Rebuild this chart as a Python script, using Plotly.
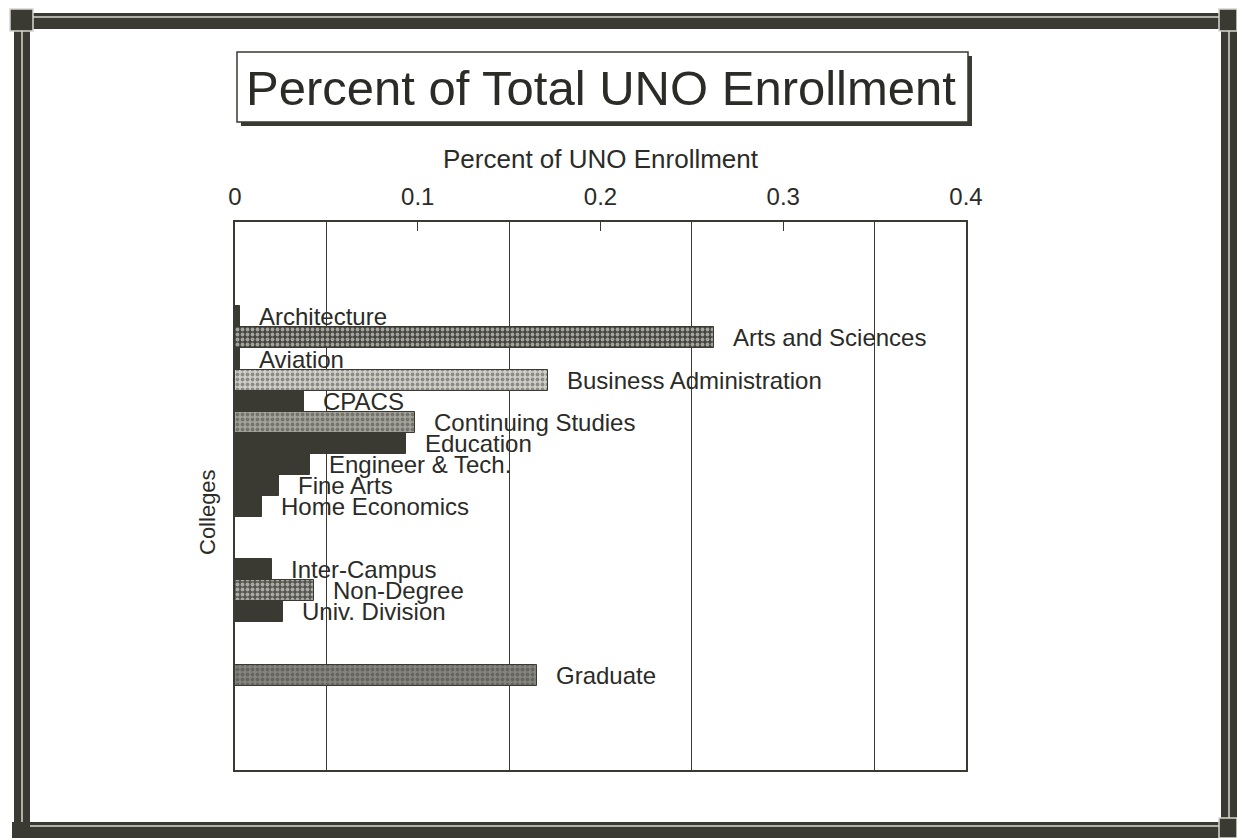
import plotly.graph_objects as go

# ---- data ----
colleges = ["Architecture", "Arts and Sciences", "Aviation", "Business Administration",
            "CPACS", "Continuing Studies", "Education", "Engineer & Tech.", "Fine Arts",
            "Home Economics", "", "", "Inter-Campus", "Non-Degree", "Univ. Division",
            "", "", "Graduate"]
percent = [0.003, 0.262, 0.003, 0.171, 0.038, 0.0985, 0.0935, 0.041, 0.024, 0.015,
           None, None, 0.020, 0.043, 0.026, None, None, 0.165]
x_ticks = [0, 0.1, 0.2, 0.3, 0.4]
x_tick_labels = ["0", "0.1", "0.2", "0.3", "0.4"]
grid_vals = [0.05, 0.15, 0.25, 0.35]

# ---- styles ----
DARK = "#3a3a33"
TXT = "#2b2b27"
bar_bg = ["#3a3a33", "#45453e", "#3a3a33", "#d0d0c8", "#3a3a33", "#a4a49a",
          "#3a3a33", "#3a3a33", "#3a3a33", "#3a3a33", DARK, DARK,
          "#3a3a33", "#55554d", "#3a3a33", DARK, DARK, "#85857d"]
bar_fg = ["#3a3a33", "#bcbcb4", "#3a3a33", "#6a6a62", "#3a3a33", "#e2e2da",
          "#3a3a33", "#3a3a33", "#3a3a33", "#3a3a33", DARK, DARK,
          "#3a3a33", "#9a9a92", "#3a3a33", DARK, DARK, "#d4d4cc"]
bar_shape = ["", ".", "", ".", "", ".", "", "", "", "", "", "",
             "", ".", "", "", "", "."]

W, H = 1237, 838
L, R, T, B = 235, 271, 222, 68
FONT = "Liberation Sans, Arial"


def px(x):
    return (x - L) / (W - L - R)


def py(y):
    return (H - B - y) / (H - T - B)


idx = list(range(len(colleges)))

fig = go.Figure()
fig.add_trace(go.Bar(
    x=percent, y=idx, orientation="h", width=1,
    marker=dict(color=bar_bg,
                line=dict(color=DARK, width=1),
                pattern=dict(shape=bar_shape, fgcolor=bar_fg, bgcolor=bar_bg,
                             size=5, solidity=0.45, fillmode="overlay")),
    hoverinfo="x+text", text=colleges, textposition="none",
))

annotations = []
for i, (name, v) in enumerate(zip(colleges, percent)):
    if v is None:
        continue
    annotations.append(dict(x=v, y=i, xref="x", yref="y", text=name, showarrow=False,
                            xanchor="left", yanchor="middle", xshift=17,
                            font=dict(family=FONT, size=24, color=TXT)))

# axis title and y title
annotations.append(dict(x=px(601), y=py(159), xref="paper", yref="paper",
                        text="Percent of UNO Enrollment", showarrow=False,
                        xanchor="center", yanchor="middle",
                        font=dict(family=FONT, size=26, color=TXT)))
annotations.append(dict(x=px(207), y=py(512), xref="paper", yref="paper",
                        text="Colleges", showarrow=False, textangle=-90,
                        xanchor="center", yanchor="middle",
                        font=dict(family=FONT, size=22, color=TXT)))
# main title
annotations.append(dict(x=px(601), y=py(88), xref="paper", yref="paper",
                        text="Percent of Total UNO Enrollment", showarrow=False,
                        xanchor="center", yanchor="middle",
                        font=dict(family=FONT, size=49, color=TXT)))

shapes = []


def rect(x0, y0, x1, y1, fill=None, line=None, lw=0):
    shapes.append(dict(type="rect", xref="paper", yref="paper",
                       x0=px(x0), x1=px(x1), y0=py(y0), y1=py(y1),
                       fillcolor=fill if fill else "rgba(0,0,0,0)",
                       line=dict(color=line if line else "rgba(0,0,0,0)", width=lw),
                       layer="above"))


def hline(x0, x1, y, color, lw):
    shapes.append(dict(type="line", xref="paper", yref="paper",
                       x0=px(x0), x1=px(x1), y0=py(y), y1=py(y),
                       line=dict(color=color, width=lw), layer="above"))


def vline(x, y0, y1, color, lw):
    shapes.append(dict(type="line", xref="paper", yref="paper",
                       x0=px(x), x1=px(x), y0=py(y0), y1=py(y1),
                       line=dict(color=color, width=lw), layer="above"))


# title box with shadow
rect(241, 56, 972, 126, fill=DARK)
rect(237, 52, 968, 122, fill="white", line=DARK, lw=1.5)

# outer frame
LIGHT = "#d8d8d0"
rect(12, 13, 1231, 29, fill=DARK)      # top
rect(14, 13, 30, 823, fill=DARK)       # left
rect(1221, 13, 1237, 838, fill=DARK)   # right
rect(12, 822, 1237, 838, fill=DARK)    # bottom
hline(30, 1221, 17, LIGHT, 1.5)
vline(22, 29, 822, LIGHT, 1.5)
vline(1229, 29, 822, LIGHT, 1.5)
hline(30, 1221, 826, LIGHT, 1.5)
# corner squares
rect(10, 9, 33, 31, fill=DARK, line=LIGHT, lw=1.5)
rect(1219, 9, 1237, 31, fill=DARK, line=LIGHT, lw=1.5)
rect(1219, 818, 1237, 838, fill=DARK, line=LIGHT, lw=1.5)

fig.update_layout(
    width=W, height=H,
    margin=dict(l=L, r=R, t=T, b=B),
    paper_bgcolor="white", plot_bgcolor="white",
    showlegend=False, bargap=0,
    annotations=annotations, shapes=shapes,
    xaxis=dict(side="top", range=[0, 0.4], tickvals=x_ticks, ticktext=x_tick_labels,
               ticks="inside", ticklen=9, tickcolor=DARK, tickwidth=1.2,
               showgrid=False, zeroline=False, showline=True, mirror=True,
               linecolor=DARK, linewidth=1.5, ticklabelstandoff=6,
               tickfont=dict(family=FONT, size=24, color=TXT),
               minor=dict(tickvals=grid_vals, showgrid=True, gridcolor=DARK,
                          gridwidth=1.2, ticks="")),
    yaxis=dict(range=[21.5, -4.5], showticklabels=False, ticks="", showgrid=False,
               zeroline=False, showline=True, mirror=True, linecolor=DARK, linewidth=1.5),
)

fig.write_html("out.html", config={"displayModeBar": False},
               post_script="document.body.style.margin='0';document.body.style.padding='0';"
                           "document.body.style.overflow='hidden';")
